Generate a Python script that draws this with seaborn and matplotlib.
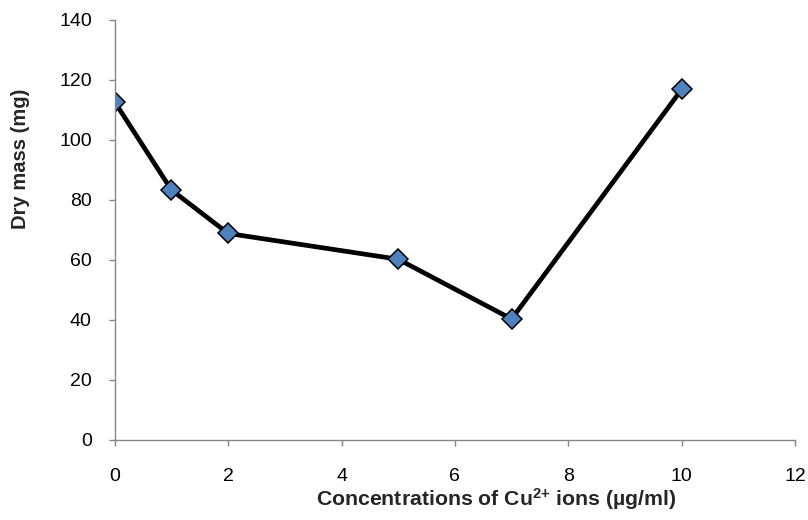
import matplotlib
matplotlib.use("Agg")
import matplotlib.pyplot as plt
import seaborn as sns
import pandas as pd

# 数据
conc = [0, 1, 2, 5, 7, 10]
dry_mass = [112.6, 83.3, 68.8, 60.2, 40.3, 116.8]
x_ticks = [0, 2, 4, 6, 8, 10, 12]
y_ticks = [0, 20, 40, 60, 80, 100, 120, 140]

df = pd.DataFrame({"conc": conc, "mass": dry_mass})

sns.set_theme(style="ticks")
plt.rcParams["font.family"] = ["Liberation Sans", "DejaVu Sans"]
plt.rcParams["mathtext.fontset"] = "custom"
plt.rcParams["mathtext.bf"] = "Liberation Sans:bold"
plt.rcParams["mathtext.rm"] = "Liberation Sans"

fig = plt.figure(figsize=(8.08, 5.2), dpi=100)
ax = fig.add_axes([0.142, 0.154, 0.842, 0.808])

sns.lineplot(data=df, x="conc", y="mass", ax=ax, color="black", linewidth=3.4,
             marker="D", markersize=10, markerfacecolor="#4F81BD",
             markeredgecolor="black", markeredgewidth=1.1)

ax.set_xlim(0, 12)
ax.set_ylim(0, 140)
ax.set_xticks(x_ticks)
ax.set_yticks(y_ticks)
ax.tick_params(axis="both", labelsize=14, colors="#868686", labelcolor="black",
               length=4.5, width=1, direction="out")
ax.tick_params(axis="x", pad=16)
ax.tick_params(axis="y", pad=12)

for side in ["top", "right"]:
    ax.spines[side].set_visible(False)
for side in ["left", "bottom"]:
    ax.spines[side].set_color("#868686")
    ax.spines[side].set_linewidth(1)

ax.set_xlabel(r"Concentrations of Cu$\mathbf{^{2{+}}}$ ions (µg/ml)", fontsize=15.3, fontweight="bold")
ax.set_ylabel("Dry mass (mg)", fontsize=14.5, fontweight="bold")
ax.xaxis.set_label_coords(0.56, -0.11)
ax.yaxis.set_label_coords(-0.124, 0.67)

fig.savefig("out.png", dpi=100)
